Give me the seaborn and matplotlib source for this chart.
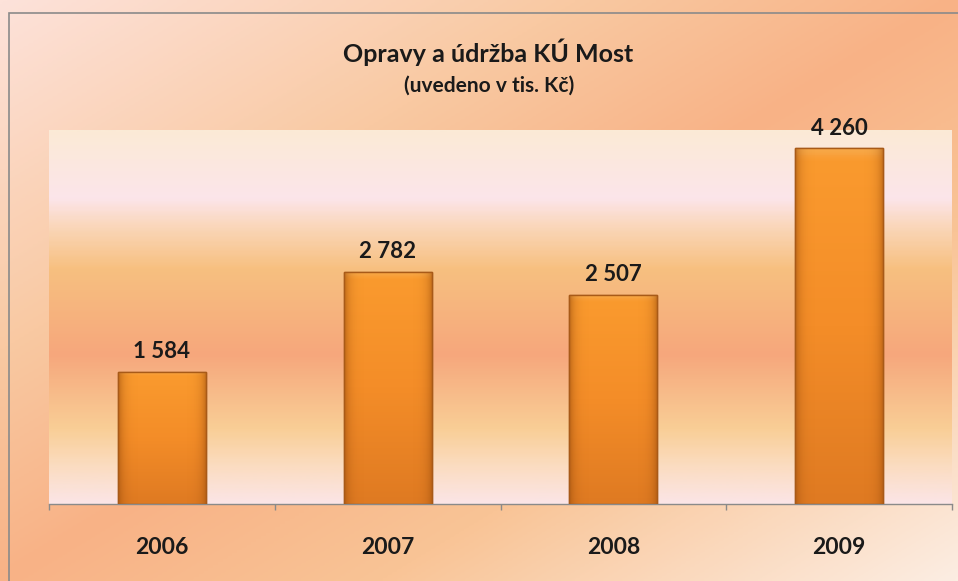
import numpy as np
import matplotlib.pyplot as plt
import seaborn as sns
from matplotlib.colors import LinearSegmentedColormap
from matplotlib.patches import Rectangle

# data
years = ['2006', '2007', '2008', '2009']
values = [1584, 2782, 2507, 4260]
title = 'Opravy a údržba KÚ Most'
subtitle = '(uvedeno v tis. Kč)'

sns.set_style('white')
plt.rcParams['font.family'] = ['Lato', 'DejaVu Sans']

fig = plt.figure(figsize=(9.58, 5.81), dpi=100)

# figure background, diagonal gradient
bg = fig.add_axes([0, 0, 1, 1], zorder=-10)
bg_cmap = LinearSegmentedColormap.from_list('bg', [
    (0.0, '#FDE2DA'), (0.3, '#F9C9A2'), (0.5, '#F8B286'),
    (0.7, '#F9C496'), (1.0, '#FCEDE2')])
gx, gy = np.meshgrid(np.linspace(0, 1, 200), np.linspace(0, 1, 200))
bg.imshow((gx + gy) / 2, cmap=bg_cmap, aspect='auto', extent=(0, 1, 0, 1),
          origin='upper')
bg.add_patch(Rectangle((9 / 958, -0.1), 1.2, 1 - 13 / 581 + 0.1,
                       fill=False, edgecolor='#8a8a8a', linewidth=1.2))
bg.set_xlim(0, 1)
bg.set_ylim(0, 1)
bg.axis('off')

ax = fig.add_axes([49 / 958, 77 / 581, 903 / 958, 374 / 581])
ymax = 4480

# plot area background, vertical bands
pa_cmap = LinearSegmentedColormap.from_list('pa', [
    (0.0, '#FBEAD6'), (0.18, '#FCE5EA'), (0.26, '#FAD6B8'),
    (0.37, '#F7C080'), (0.6, '#F6A77C'), (0.8, '#F9CE96'),
    (0.9, '#FBDCC0'), (1.0, '#FBE5E6')])
ax.imshow(np.linspace(0, 1, 300).reshape(-1, 1), cmap=pa_cmap, aspect='auto',
          extent=(-0.5, 3.5, 0, ymax), origin='upper', zorder=0)

sns.barplot(x=years, y=values, color='#F48C26', width=0.39, ax=ax,
            edgecolor='#A85A18', linewidth=1, zorder=2)

bar_cmap = LinearSegmentedColormap.from_list('bar', [
    (0.0, '#F7A94A'), (0.03, '#FA9A2E'), (0.5, '#F48D28'), (1.0, '#DF7A22')])
for p in ax.patches:
    x0, w, h = p.get_x(), p.get_width(), p.get_height()
    im = ax.imshow(np.linspace(0, 1, 200).reshape(-1, 1), cmap=bar_cmap,
                   aspect='auto', extent=(x0, x0 + w, 0, h), origin='upper',
                   zorder=2.5)
    im.set_clip_path(p)
    shade = np.linspace(-1, 1, 100) ** 8
    sd = ax.imshow(np.tile(shade, (2, 1)), cmap=LinearSegmentedColormap.from_list(
        's', [(0, (0.6, 0.3, 0.05, 0)), (1, (0.6, 0.3, 0.05, 0.6))]),
        aspect='auto', extent=(x0, x0 + w, 0, h), zorder=2.6)
    sd.set_clip_path(p)
    ax.add_patch(Rectangle((x0, 0), w, h, fill=False, edgecolor='#A85A18',
                           linewidth=1, zorder=3))

ax.bar_label(ax.containers[0], labels=[f'{v:,}'.replace(',', ' ') for v in values],
             padding=7, fontsize=16, fontweight='bold', color='#1a1a1a')

ax.set_xlim(-0.5, 3.5)
ax.set_ylim(0, ymax)
ax.set_yticks([])
ax.set_xticks(range(len(years)))
ax.set_xticklabels(years, fontsize=16.5, fontweight='bold', color='#1a1a1a')
ax.set_xticks(np.arange(-0.5, 4, 1), minor=True)
ax.tick_params(axis='x', which='major', length=0, pad=24)
ax.tick_params(axis='x', which='minor', length=4, width=1, color='#8a8a8a',
               direction='out', bottom=True)
for s in ['left', 'right', 'top']:
    ax.spines[s].set_visible(False)
ax.spines['bottom'].set_color('#8a8a8a')
ax.spines['bottom'].set_linewidth(1)
ax.set_xlabel('')
ax.set_ylabel('')

fig.text(0.51, 1 - 52 / 581, title, ha='center', va='center', fontsize=18,
         fontweight='bold', color='#1a1a1a')
fig.text(0.511, 1 - 86 / 581, subtitle, ha='center', va='center', fontsize=15,
         fontweight='bold', color='#1a1a1a')

fig.savefig('out.png', dpi=100)
